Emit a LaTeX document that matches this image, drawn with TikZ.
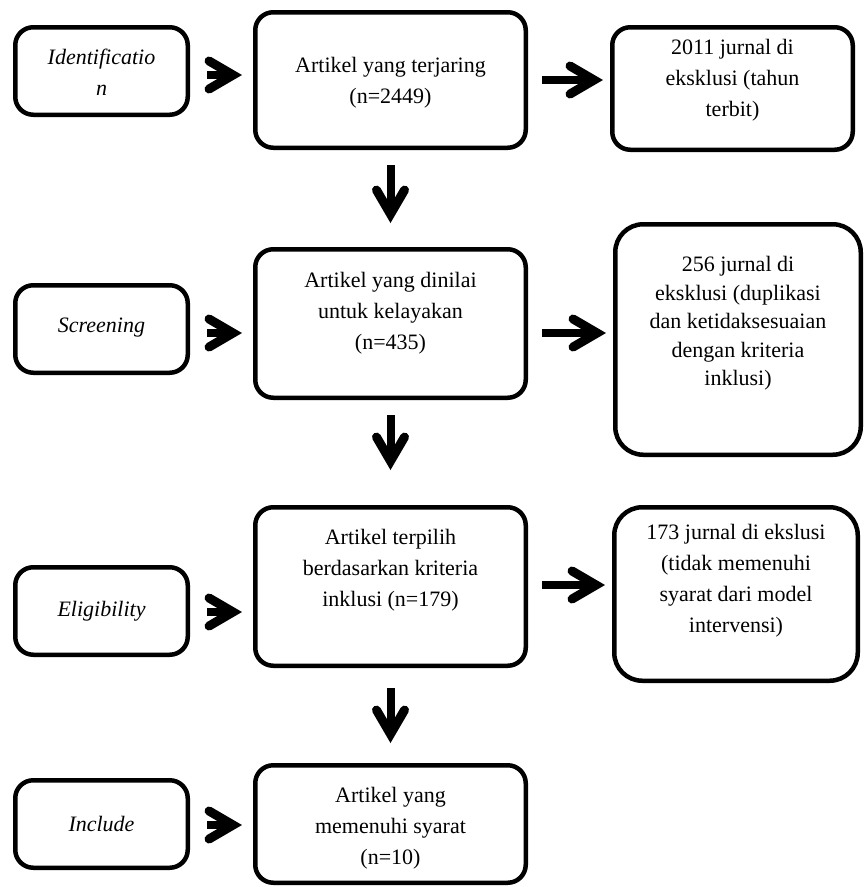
\documentclass[tikz,border=0pt]{standalone}
\usepackage{fontspec}
\setmainfont{Liberation Serif}
\usetikzlibrary{arrows.meta,calc}
\begin{document}
\begin{tikzpicture}[x=1pt,y=-1pt,
 box/.style={draw, line width=4.5pt, rounded corners=18pt, inner sep=0pt},
 bigbox/.style={box, rounded corners=28pt},
 txt/.style={align=center, font=\fontsize{22}{31}\selectfont, inner sep=0pt},
 arr/.style={line width=8pt, -{Straight Barb[length=24pt,width=28pt,line width=9pt,line cap=round,line join=miter]}},
]
\useasboundingbox (0,0) rectangle (867,887);
% left boxes
\node[box, minimum width=172.5pt, minimum height=87.5pt] (id) at (101.5,71) {};
\node[box, minimum width=172.5pt, minimum height=87.5pt] (scr) at (101.5,329) {};
\node[box, minimum width=172.5pt, minimum height=87.5pt] (elig) at (101.5,611) {};
\node[box, minimum width=172.5pt, minimum height=87.5pt] (incl) at (101.5,824) {};
\node[txt] (id-t) at (101.5,72.5) {\itshape Identificatio\\\itshape n};
\node[txt] (scr-t) at (101.5,328) {\itshape Screening};
\node[txt] (elig-t) at (101.5,611) {\itshape Eligibility};
\node[txt] (incl-t) at (101.5,824) {\itshape Include};
% middle boxes
\node[box, minimum width=270.5pt, minimum height=135.5pt] (m1) at (390.5,80) {};
\node[box, minimum width=270.5pt, minimum height=148.5pt] (m2) at (390.5,323.5) {};
\node[box, minimum width=270.5pt, minimum height=158.5pt] (m3) at (390.5,586.5) {};
\node[box, minimum width=270.5pt, minimum height=117.5pt] (m4) at (390.5,824) {};
\node[txt] (m1-t) at (390.5,82.5) {Artikel yang terjaring\\(n=2449)};
\node[txt] (m2-t) at (390.5,313) {Artikel yang dinilai\\untuk kelayakan\\(n=435)};
\node[txt] (m3-t) at (390.5,570) {Artikel terpilih\\berdasarkan kriteria\\inklusi (n=179)};
\node[txt] (m4-t) at (390.5,828.5) {Artikel yang\\memenuhi syarat\\(n=10)};
% right boxes
\node[box, minimum width=240.5pt, minimum height=122.5pt] (r1) at (732.5,88.5) {};
\node[bigbox, minimum width=245.5pt, minimum height=230.5pt] (r2) at (738,339.5) {};
\node[bigbox, minimum width=243.5pt, minimum height=173.5pt] (r3) at (736,594) {};
\node[txt] (r1-t) at (732.5,80) {2011 jurnal di\\eksklusi (tahun\\terbit)};
\node[txt, font=\fontsize{22}{28.5}\selectfont] (r2-t) at (738,323.5) {256 jurnal di\\eksklusi (duplikasi\\dan ketidaksesuaian\\dengan kriteria\\inklusi)};
\node[txt] (r3-t) at (736,581) {173 jurnal di ekslusi\\(tidak memenuhi\\syarat dari model\\intervensi)};
% left chevrons
\draw[arr, shorten <=17pt, shorten >=11pt] ([yshift=-4pt]id.east) -- ([yshift=-4pt]id.east -| m1.west);
\draw[arr, shorten <=17pt, shorten >=11pt] ([yshift=-4pt]scr.east) -- ([yshift=-4pt]scr.east -| m2.west);
\draw[arr, shorten <=17pt, shorten >=11pt] ([yshift=-1pt]elig.east) -- ([yshift=-1pt]elig.east -| m3.west);
\draw[arr, shorten <=17pt, shorten >=11pt] ([yshift=-1pt]incl.east) -- ([yshift=-1pt]incl.east -| m4.west);
% right arrows
\draw[arr, shorten <=14pt, shorten >=7pt] (m1.east) -- (m1.east -| r1.west);
\draw[arr, shorten <=14pt, shorten >=7pt] ([yshift=-9.5pt]m2.east) -- ([yshift=-9.5pt]m2.east -| r2.west);
\draw[arr, shorten <=14pt, shorten >=7pt] ([yshift=1.5pt]m3.east) -- ([yshift=1.5pt]m3.east -| r3.west);
% down arrows
\draw[arr, shorten <=15pt, shorten >=24pt] (m1.south) -- (m2.north);
\draw[arr, shorten <=15pt, shorten >=35pt] (m2.south) -- (m3.north);
\draw[arr, shorten <=20pt, shorten >=20pt] (m3.south) -- (m4.north);
\end{tikzpicture}
\end{document}
